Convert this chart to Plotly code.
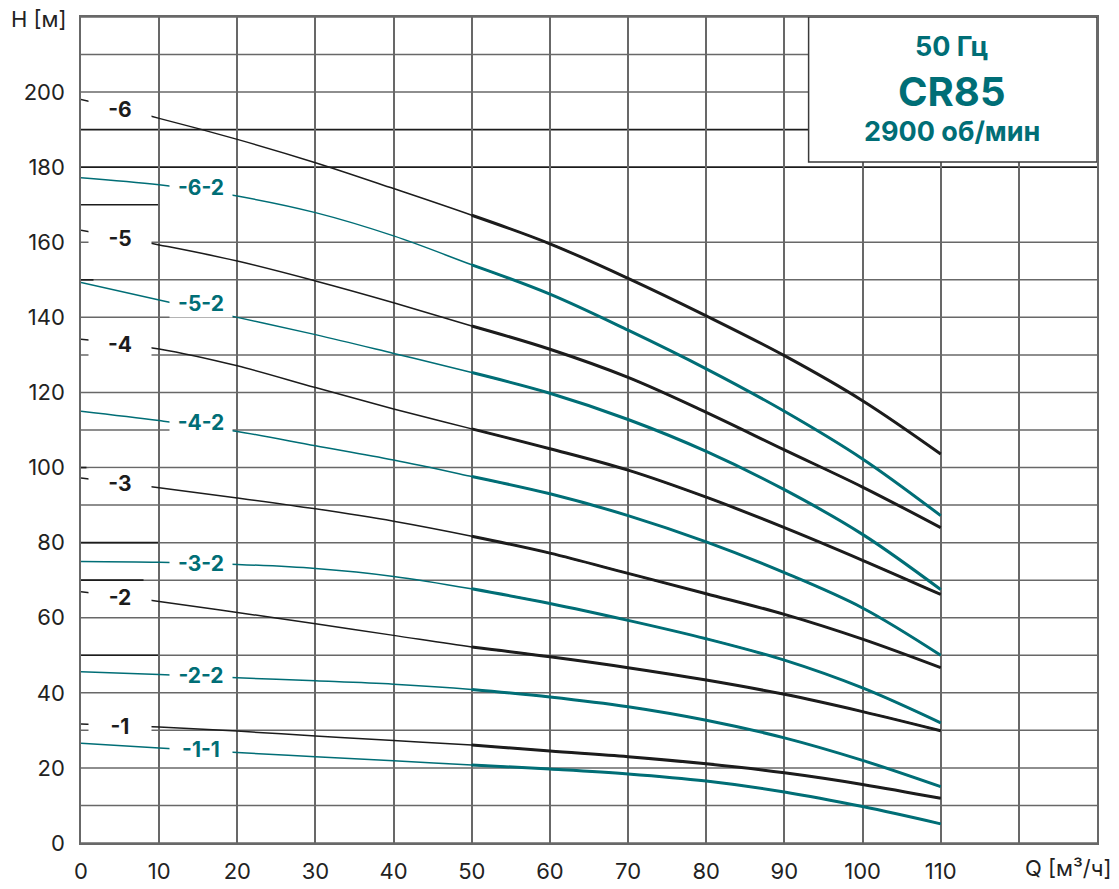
import numpy as np
import plotly.graph_objects as go

# ---------------- data ----------------
Q = [0, 10, 20, 30, 40, 50, 60, 70, 80, 90, 100, 110]

H_6   = [198.0, 193.0, 187.4, 181.2, 174.3, 167.2, 159.6, 150.4, 140.4, 129.8, 117.8, 103.6]
H_6_2 = [177.2, 175.3, 172.3, 167.9, 161.7, 154.0, 146.2, 136.6, 126.3, 115.0, 102.3, 87.2]
H_5   = [163.2, 159.3, 155.0, 149.7, 143.9, 137.7, 131.5, 124.0, 114.7, 104.7, 94.8, 84.0]
H_5_2 = [149.3, 144.6, 140.0, 135.4, 130.4, 125.3, 119.8, 112.8, 104.3, 94.1, 82.2, 67.5]
H_4   = [134.2, 131.6, 127.1, 121.3, 115.6, 110.3, 105.0, 99.3, 92.1, 84.0, 75.3, 66.2]
H_4_2 = [115.0, 112.5, 109.6, 105.8, 102.0, 97.6, 93.0, 87.2, 80.2, 72.0, 62.6, 50.0]
H_3   = [97.2, 94.6, 91.9, 89.0, 85.7, 81.7, 77.2, 71.8, 66.4, 60.9, 54.3, 46.7]
H_3_2 = [75.0, 74.8, 74.2, 73.1, 71.0, 67.7, 63.8, 59.3, 54.4, 48.7, 41.3, 32.0]
H_2   = [66.9, 64.3, 61.4, 58.4, 55.3, 52.2, 49.6, 46.7, 43.4, 39.6, 35.0, 29.9]
H_2_2 = [45.6, 44.9, 44.0, 43.2, 42.3, 40.9, 38.9, 36.3, 32.7, 28.0, 22.0, 15.0]
H_1   = [31.7, 30.9, 29.8, 28.5, 27.3, 26.1, 24.5, 23.0, 21.1, 18.7, 15.6, 11.9]
H_1_1 = [26.6, 25.3, 24.1, 23.0, 21.9, 20.8, 19.7, 18.4, 16.5, 13.6, 9.7, 5.1]

black_names = ["-6", "-5", "-4", "-3", "-2", "-1"]
black_curves = [H_6, H_5, H_4, H_3, H_2, H_1]
teal_names = ["-6-2", "-5-2", "-4-2", "-3-2", "-2-2", "-1-1"]
teal_curves = [H_6_2, H_5_2, H_4_2, H_3_2, H_2_2, H_1_1]

x_ticks = list(range(0, 111, 10))
y_ticks = list(range(0, 201, 20))
title_lines = ["50 Гц", "CR85", "2900 об/мин"]

# ---------------- style ----------------
BLACK = "#1c1c1c"
TEAL = "#006e76"
GRID = "#686868"
TXT = "#222222"
FONT = "Inter"

fig = go.Figure()

split = Q.index(50)
for curves, color in [(black_curves, BLACK), (teal_curves, TEAL)]:
    for h in curves:
        fig.add_trace(go.Scatter(x=Q, y=h, mode="lines",
                                 line=dict(color=color, width=1.5, shape="spline", smoothing=1.0),
                                 hoverinfo="skip", showlegend=False))
        fig.add_trace(go.Scatter(x=Q[split:], y=h[split:], mode="lines",
                                 line=dict(color=color, width=3, shape="spline", smoothing=1.0),
                                 hoverinfo="skip", showlegend=False))

shapes = []
# horizontal gridlines (170 missing in reference)
for v in range(0, 221, 10):
    if v in (170, 180, 190):
        continue
    shapes.append(dict(type="line", xref="x", yref="y", x0=0, x1=130, y0=v, y1=v,
                       line=dict(color=GRID, width=1.5), layer="below"))
# dark full lines
for v in (190, 180):
    shapes.append(dict(type="line", xref="x", yref="y", x0=0, x1=130, y0=v, y1=v,
                       line=dict(color=BLACK, width=1.7), layer="below"))
# dark short segments on left
for v, x1 in [(170, 10), (80, 10), (70, 8), (50, 10), (150, 1.6), (100, 0.7)]:
    shapes.append(dict(type="line", xref="x", yref="y", x0=0, x1=x1, y0=v, y1=v,
                       line=dict(color=BLACK, width=1.7), layer="below"))
# info box
shapes.append(dict(type="rect", xref="x", yref="y", x0=93.1, x1=130, y0=181.4, y1=220,
                   fillcolor="white", line=dict(color="#3a3a3a", width=1.5), layer="above"))

annotations = []
# curve labels with white background
for names, curves, color, qc, qa in [(black_names, black_curves, BLACK, 5.0, 5.18),
                                     (teal_names, teal_curves, TEAL, 15.3, 11.5)]:
    for n, h in zip(names, curves):
        yv = float(np.interp(qa, Q, h))
        annotations.append(dict(x=qc, y=yv, xref="x", yref="y", text="<b>%s</b>" % n,
                                showarrow=False, bgcolor="white", width=58, height=24,
                                borderpad=2, xanchor="center", yanchor="middle",
                                font=dict(family=FONT, size=21, color=color)))

# info box text
for txt, yv, sz in zip(title_lines, [212.2, 200.2, 189.6], [27, 40, 27]):
    annotations.append(dict(x=111.4, y=yv, xref="x", yref="y", text="<b>%s</b>" % txt,
                            showarrow=False, xanchor="center", yanchor="middle",
                            font=dict(family=FONT, size=sz, color=TEAL)))

# axis titles
annotations.append(dict(x=0, y=1, xref="paper", yref="paper", text="H [м]", showarrow=False,
                        xanchor="right", yanchor="middle", xshift=-12, yshift=-2,
                        font=dict(family=FONT, size=22, color=TXT)))
annotations.append(dict(x=126.3, y=0, xref="x", yref="paper", text="Q [м³/ч]", showarrow=False,
                        xanchor="center", yanchor="top", yshift=-10,
                        font=dict(family=FONT, size=22, color=TXT)))

fig.update_layout(
    width=1119, height=889,
    margin=dict(l=81, r=22, t=17, b=46, autoexpand=False),
    paper_bgcolor="white", plot_bgcolor="white",
    shapes=shapes, annotations=annotations,
    showlegend=False,
    font=dict(family=FONT, size=22, color=TXT),
)
fig.update_xaxes(range=[0, 130], tickvals=x_ticks + [120, 130],
                 ticktext=[str(v) for v in x_ticks] + ["", ""],
                 showgrid=True, gridcolor=GRID, gridwidth=1.5,
                 showline=True, mirror=True, linecolor=GRID, linewidth=1.5,
                 zeroline=False, ticks="", ticklabelstandoff=8, automargin=False,
                 tickfont=dict(family=FONT, size=22, color=TXT))
fig.update_yaxes(range=[0, 220], tickvals=y_ticks,
                 showgrid=False, showline=True, mirror=True, linecolor=GRID, linewidth=1.5,
                 zeroline=False, ticks="", ticklabelstandoff=10, automargin=False,
                 tickfont=dict(family=FONT, size=22, color=TXT))

fig.write_html("out.html", config={"displayModeBar": False},
               post_script="document.body.style.margin='0';document.body.style.overflow='hidden';")
